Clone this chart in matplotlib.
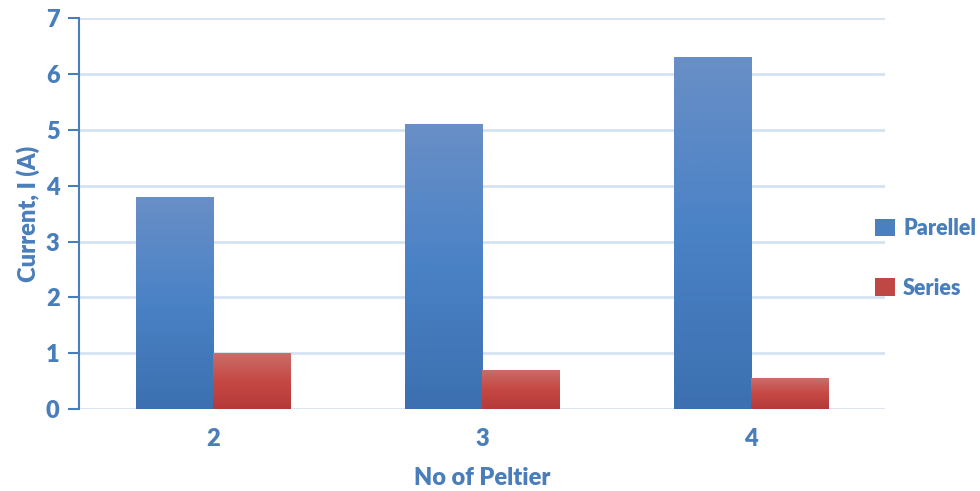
import numpy as np
import matplotlib.pyplot as plt
from matplotlib.colors import LinearSegmentedColormap
from matplotlib.patches import Patch

# Datos
n_peltier = ['2', '3', '4']
corriente_paralelo = [3.8, 5.1, 6.3]
corriente_serie = [1.0, 0.7, 0.55]

azul_texto = '#4a7ebb'
peso = 'heavy'
plt.rcParams['font.family'] = ['Lato', 'DejaVu Sans']

# Degradados verticales de las barras (claro arriba, oscuro abajo)
cmap_azul = LinearSegmentedColormap.from_list('azul', ['#3c70b0', '#4a82c6', '#698fc6'])
cmap_rojo = LinearSegmentedColormap.from_list('rojo', ['#b43a38', '#c64844', '#c96e6a'])

fig = plt.figure(figsize=(9.8, 4.91), dpi=100)
ax = fig.add_axes([0.0806, 0.167, 0.8225, 0.796])

x = np.arange(len(n_peltier))
ancho = 0.287
grad = np.linspace(0, 1, 256).reshape(-1, 1)


def barras_degradado(pos, valores, cmap):
    barras = ax.bar(pos, valores, ancho, color='none', edgecolor='none', zorder=3)
    for b in barras:
        x0, y0 = b.get_x(), b.get_y()
        im = ax.imshow(grad, cmap=cmap, aspect='auto', origin='lower',
                       extent=[x0, x0 + b.get_width(), y0, y0 + b.get_height()],
                       zorder=3, interpolation='bilinear')
        im.set_clip_path(b)
    return barras


barras_degradado(x - ancho / 2, corriente_paralelo, cmap_azul)
barras_degradado(x + ancho / 2, corriente_serie, cmap_rojo)

ax.set_xlim(-0.5, 2.5)
ax.set_ylim(0, 7)
ax.set_yticks(range(0, 8))
ax.set_xticks(x)
ax.set_xticklabels(n_peltier)

ax.grid(axis='y', color='#d6e2f3', linewidth=2, zorder=0)
ax.set_axisbelow(True)
for lado in ['top', 'right', 'bottom']:
    ax.spines[lado].set_visible(False)
ax.spines['left'].set_color(azul_texto)
ax.spines['left'].set_linewidth(1.5)
ax.tick_params(axis='y', colors=azul_texto, length=8, width=1.5, pad=6, labelsize=17)
ax.tick_params(axis='x', length=0, colors=azul_texto, pad=14, labelsize=17)
for t in ax.get_xticklabels() + ax.get_yticklabels():
    t.set_fontweight(peso)

ax.set_xlabel('No of Peltier', color=azul_texto, fontsize=17, fontweight=peso, labelpad=12)
ax.set_ylabel('Current, I (A)', color=azul_texto, fontsize=17, fontweight=peso, labelpad=4)

elementos = [Patch(facecolor='#4a7fc0', label='Parellel'),
             Patch(facecolor='#c04844', label='Series')]
ley = fig.legend(handles=elementos, loc='center left', bbox_to_anchor=(0.893, 0.474),
                 frameon=False, handlelength=0.9, handleheight=0.9, handletextpad=0.4,
                 labelspacing=1.8, fontsize=15.5, borderaxespad=0, borderpad=0)
for t in ley.get_texts():
    t.set_color(azul_texto)
    t.set_fontweight(peso)

fig.savefig('out.png', dpi=100)
